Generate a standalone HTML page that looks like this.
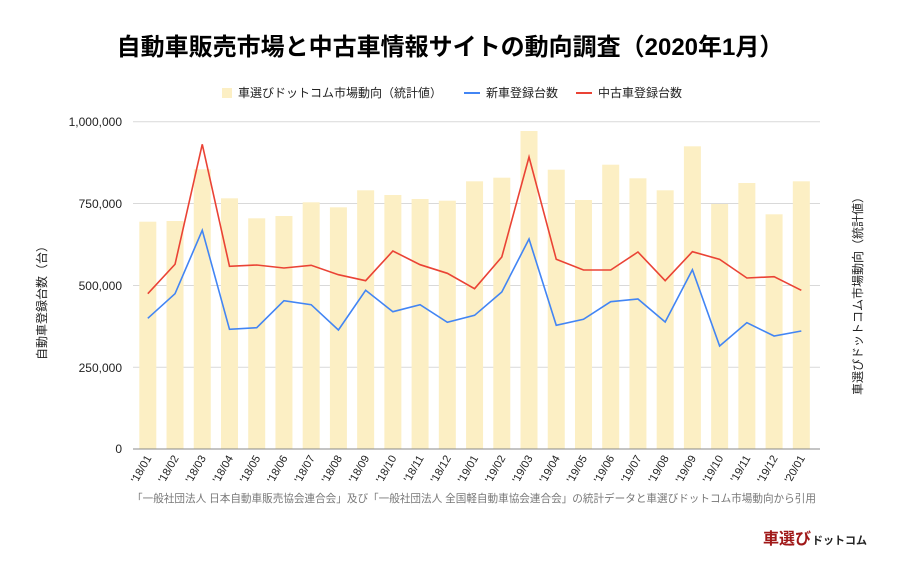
<!DOCTYPE html>
<html><head><meta charset="utf-8"><style>
body{margin:0;background:#fff;}
svg text{font-family:"Liberation Sans","Noto Sans CJK JP",sans-serif;}
</style></head><body>
<svg width="900" height="580" xmlns="http://www.w3.org/2000/svg">
<rect width="900" height="580" fill="#fff"/>
<text x="450" y="55" text-anchor="middle" font-size="24" font-weight="bold" fill="#000">自動車販売市場と中古車情報サイトの動向調査（2020年1月）</text>
<rect x="222" y="88" width="10" height="10" fill="#fcefc4"/>
<text x="238" y="97" font-size="12" fill="#222">車選びドットコム市場動向（統計値）</text>
<line x1="464" y1="93" x2="480" y2="93" stroke="#4285f4" stroke-width="2"/>
<text x="486" y="97" font-size="12" fill="#222">新車登録台数</text>
<line x1="576" y1="93" x2="592" y2="93" stroke="#ea4335" stroke-width="2"/>
<text x="598" y="97" font-size="12" fill="#222">中古車登録台数</text>
<g stroke="#d9d9d9" stroke-width="1">
<line x1="133" y1="121.7" x2="820" y2="121.7"/>
<line x1="133" y1="203.5" x2="820" y2="203.5"/>
<line x1="133" y1="285.5" x2="820" y2="285.5"/>
<line x1="133" y1="367.3" x2="820" y2="367.3"/>
</g>
<g font-size="12" fill="#222" text-anchor="end">
<text x="122" y="126">1,000,000</text>
<text x="122" y="208">750,000</text>
<text x="122" y="290">500,000</text>
<text x="122" y="372">250,000</text>
<text x="122" y="453">0</text>
</g>
<g fill="#fcefc4" id="bars"></g>
<line x1="133" y1="449" x2="820" y2="449" stroke="#888" stroke-width="1"/>
<polyline id="red" fill="none" stroke="#ea4335" stroke-width="1.6"/>
<polyline id="blue" fill="none" stroke="#4285f4" stroke-width="1.6"/>
<g id="xl" font-size="11" fill="#222"></g>
<text transform="translate(46,300) rotate(-90)" text-anchor="middle" font-size="12" fill="#222">自動車登録台数（台）</text>
<text transform="translate(862,293) rotate(-90)" text-anchor="middle" font-size="12" fill="#222">車選びドットコム市場動向（統計値）</text>
<text x="474" y="502" text-anchor="middle" font-size="10.6" fill="#777">「一般社団法人 日本自動車販売協会連合会」及び「一般社団法人 全国軽自動車協会連合会」の統計データと車選びドットコム市場動向から引用</text>
<text x="763" y="544" font-size="16" font-weight="bold" fill="#a01818">車選び</text>
<text x="812" y="544" font-size="11" font-weight="bold" fill="#222">ドットコム</text>
<script>
var bars=[221.7,221,169.3,198.3,218.3,216,202.3,207.3,190.3,195,199,200.7,181.3,177.7,131,169.7,200,164.7,178.3,190.3,146.3,204,183,214.3,181.3];
var red=[293.7,264.3,144.3,266.3,265,268,265.3,274.7,280.7,251,264.7,273.3,288.7,257,157,259.3,270,270,252,280.7,251.7,259.3,278,276.7,290.3];
var blue=[318.3,293.7,230.3,329.3,327.7,300.7,304.7,330,290.3,311.7,304.7,322.3,315.3,292,239,325.3,319.3,301.7,299,322,269.7,346,322.7,336,331];
var ns="http://www.w3.org/2000/svg",g=document.getElementById('bars'),xl=document.getElementById('xl');
var rp=[],bp=[];
for(var i=0;i<25;i++){var cx=147.8+i*27.23;
var r=document.createElementNS(ns,'rect');r.setAttribute('x',cx-8.5);r.setAttribute('y',bars[i]);r.setAttribute('width',17);r.setAttribute('height',449-bars[i]);g.appendChild(r);
rp.push(cx+','+red[i]);bp.push(cx+','+blue[i]);
var y=18+Math.floor(i/12),m=i%12+1;var lab="'"+y+"/"+(m<10?'0'+m:m);
var t=document.createElementNS(ns,'text');t.setAttribute('transform','translate('+(cx+4)+',458) rotate(-60)');t.setAttribute('text-anchor','end');t.textContent=lab;xl.appendChild(t);}
document.getElementById('red').setAttribute('points',rp.join(' '));
document.getElementById('blue').setAttribute('points',bp.join(' '));
</script>
</svg>
</body></html>
